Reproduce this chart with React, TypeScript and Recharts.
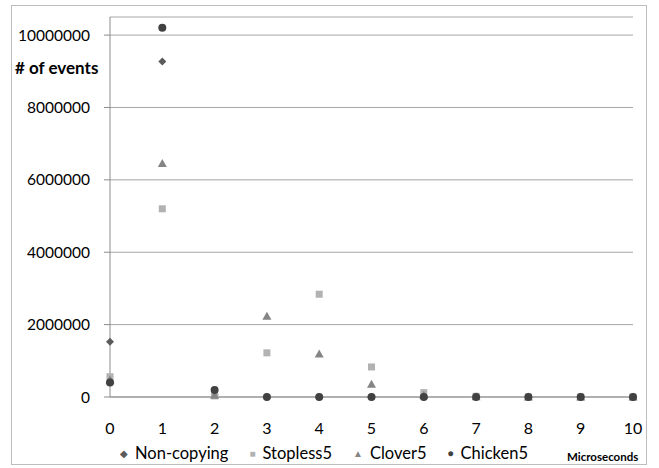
import React from "react"
import { ScatterChart, Scatter, XAxis, YAxis, CartesianGrid } from "recharts"

// microseconds on the x axis
const micros = [0, 1, 2, 3, 4, 5, 6, 7, 8, 9, 10]

const nonCopying = [1530000, 9270000, 60000, 0, 0, 0, 0, 0, 0, 0, 0]
const stopless5 = [560000, 5200000, 30000, 1220000, 2840000, 830000, 120000, 20000, 0, 0, 0]
const clover5 = [470000, 6450000, 50000, 2230000, 1190000, 350000, 50000, 10000, 0, 0, 0]
const chicken5 = [400000, 10200000, 190000, 0, 0, 0, 0, 0, 0, 0, 0]

const yTicks = [0, 2000000, 4000000, 6000000, 8000000, 10000000]
const xTicks = micros

const FONT = "Lato, 'Open Sans', sans-serif"

const toPoints = (vals: number[]) => micros.map((x, i) => ({ x, y: vals[i] }))

type ShapeProps = { cx?: number; cy?: number; fill?: string }

const Diamond = ({ cx = 0, cy = 0, fill }: ShapeProps) => (
  <polygon points={`${cx},${cy - 4} ${cx + 4},${cy} ${cx},${cy + 4} ${cx - 4},${cy}`} fill={fill} />
)
const Square = ({ cx = 0, cy = 0, fill }: ShapeProps) => (
  <rect x={cx - 3.5} y={cy - 3.5} width={7} height={7} fill={fill} />
)
const Triangle = ({ cx = 0, cy = 0, fill }: ShapeProps) => (
  <polygon points={`${cx},${cy - 4.5} ${cx + 4.5},${cy + 3.5} ${cx - 4.5},${cy + 3.5}`} fill={fill} />
)
const Circle = ({ cx = 0, cy = 0, fill }: ShapeProps) => <circle cx={cx} cy={cy} r={4} fill={fill} />

const series = [
  { name: "Non-copying", data: nonCopying, color: "#5b5b5b", shape: Diamond, icon: "◆" },
  { name: "Stopless5", data: stopless5, color: "#b2b2b2", shape: Square, icon: "■" },
  { name: "Clover5", data: clover5, color: "#858585", shape: Triangle, icon: "▲" },
  { name: "Chicken5", data: chicken5, color: "#414141", shape: Circle, icon: "●" },
]

export default function App() {
  return (
    <div style={{ position: "relative", width: 659, height: 468, background: "#fff", fontFamily: FONT }}>
      <style>{`body{margin:0}`}</style>
      <div
        style={{
          position: "absolute",
          left: 11,
          top: 5,
          width: 636,
          height: 460,
          border: "1px solid #bdbdbd",
          boxSizing: "border-box",
        }}
      />
      <ScatterChart width={659} height={468} margin={{ top: 17, right: 26, left: 0, bottom: 0 }}>
        <CartesianGrid vertical={false} stroke="#a6a6a6" strokeWidth={1} />
        <XAxis
          type="number"
          dataKey="x"
          domain={[0, 10]}
          ticks={xTicks}
          height={71}
          axisLine={{ stroke: "#8c8c8c" }}
          tickLine={false}
          tickMargin={20}
          tick={{ fill: "#000", fontSize: 16, fontFamily: FONT }}
        />
        <YAxis
          type="number"
          dataKey="y"
          domain={[0, 10500000]}
          ticks={yTicks}
          width={110}
          axisLine={{ stroke: "#8c8c8c" }}
          tickLine={{ stroke: "#8c8c8c" }}
          tickSize={6}
          tickMargin={14}
          tick={{ fill: "#000", fontSize: 15.5, fontFamily: FONT }}
        />
        {series.map((s) => {
          const Shape = s.shape
          return (
            <Scatter
              key={s.name}
              name={s.name}
              data={toPoints(s.data)}
              fill={s.color}
              isAnimationActive={false}
              shape={(p: any) => <Shape cx={p.cx} cy={p.cy} fill={s.color} />}
            />
          )
        })}
      </ScatterChart>
      <div
        style={{
          position: "absolute",
          left: 15,
          top: 57,
          fontSize: 17,
          fontWeight: 700,
          color: "#000",
        }}
      >
        # of events
      </div>
      <div
        style={{
          position: "absolute",
          left: 120,
          top: 443,
          fontSize: 16.5,
          color: "#000",
          display: "flex",
          whiteSpace: "nowrap",
        }}
      >
        {series.map((s) => (
          <span key={s.name} style={{ marginRight: 21 }}>
            <span style={{ color: s.color, fontSize: 10, marginRight: 7, verticalAlign: "2px" }}>{s.icon}</span>
            {s.name}
          </span>
        ))}
      </div>
      <div
        style={{
          position: "absolute",
          left: 567,
          top: 450,
          fontSize: 11.5,
          fontWeight: 700,
          color: "#000",
        }}
      >
        Microseconds
      </div>
    </div>
  )
}
